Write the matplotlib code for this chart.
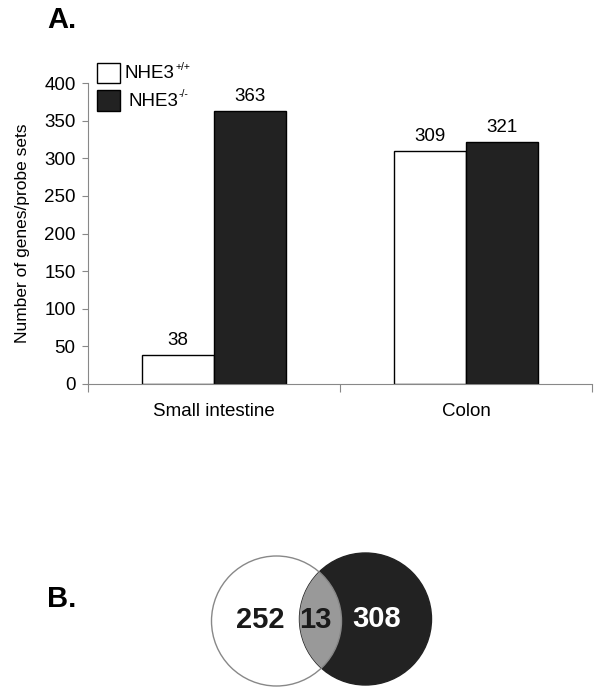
import matplotlib
matplotlib.use("Agg")
import matplotlib.pyplot as plt
from matplotlib.patches import Circle
import numpy as np

plt.rcParams['font.family'] = ['Liberation Sans', 'DejaVu Sans']

categories = ["Small intestine", "Colon"]
wt_values = [38, 309]
ko_values = [363, 321]
series_names = ["NHE3", "NHE3"]
series_sups = ["+/+", "-/-"]
yticks = [0, 50, 100, 150, 200, 250, 300, 350, 400]
venn_only_left = 252
venn_shared = 13
venn_only_right = 308

W, H = 602, 695
fig = plt.figure(figsize=(W / 100, H / 100), dpi=100)

ax = fig.add_axes([88 / W, 1 - 384 / H, (592 - 88) / W, (384 - 83) / H])
x = np.arange(len(categories)) + 0.5
bw = 0.287
ax.bar(x - bw / 2, wt_values, bw, color='white', edgecolor='black', linewidth=1)
ax.bar(x + bw / 2, ko_values, bw, color='#222222', edgecolor='black', linewidth=1)
for xi, v in zip(x - bw / 2, wt_values):
    ax.text(xi, v + 8, str(v), ha='center', va='bottom', fontsize=13.5)
for xi, v in zip(x + bw / 2, ko_values):
    ax.text(xi, v + 8, str(v), ha='center', va='bottom', fontsize=13.5)

ax.set_xlim(0, len(categories))
ax.set_ylim(0, 400)
ax.set_yticks(yticks)
ax.set_xticks([0, 1, 2])
ax.set_xticklabels([])
ax.set_xticks(x, minor=True)
ax.set_xticklabels(categories, minor=True, fontsize=13.5)
ax.tick_params(axis='x', which='minor', length=0, pad=14)
ax.tick_params(axis='x', which='major', length=6, color='#888888')
ax.tick_params(axis='y', labelsize=13.5, length=4, color='#888888', pad=5)
for s in ['top', 'right']:
    ax.spines[s].set_visible(False)
ax.spines['left'].set_color('#888888')
ax.spines['bottom'].set_color('#888888')
ax.set_ylabel("Number of genes/probe sets", fontsize=12.5, labelpad=10)

# overlay axes in pixel coordinates
ov = fig.add_axes([0, 0, 1, 1], zorder=5)
ov.set_xlim(0, W)
ov.set_ylim(H, 0)
ov.axis('off')
ov.patch.set_alpha(0)

# legend
ov.add_patch(plt.Rectangle((97, 63), 23, 20, facecolor='white', edgecolor='black', linewidth=1))
ov.add_patch(plt.Rectangle((97, 90), 23, 21, facecolor='#222222', edgecolor='black', linewidth=1))
ov.text(125, 74, series_names[0], va='center', ha='left', fontsize=13.5)
ov.text(176, 67, series_sups[0], va='center', ha='left', fontsize=7.5)
ov.text(128, 101, series_names[1], va='center', ha='left', fontsize=13.5)
ov.text(179, 94, series_sups[1], va='center', ha='left', fontsize=7.5)

ov.text(47, 20, "A.", fontsize=21, fontweight='bold', va='center', ha='left')
ov.text(47, 599, "B.", fontsize=21, fontweight='bold', va='center', ha='left')

# Venn
c1 = (276.5, 621)
r1 = 65
c2 = (365.5, 619)
r2 = 66
ov.add_patch(Circle(c2, r2, facecolor='#222222', edgecolor='#222222', linewidth=1))
lens = Circle(c1, r1, facecolor='#999999', edgecolor='none')
ov.add_patch(lens)
clip = Circle(c2, r2, transform=ov.transData)
lens.set_clip_path(clip)
ov.add_patch(Circle(c1, r1, facecolor='none', edgecolor='#888888', linewidth=1))
ov.text(260.5, 620, str(venn_only_left), fontsize=21, fontweight='bold', ha='center', va='center', color='#1a1a1a')
ov.text(315.5, 620, str(venn_shared), fontsize=21, fontweight='bold', ha='center', va='center', color='#1a1a1a')
ov.text(376.5, 619, str(venn_only_right), fontsize=21, fontweight='bold', ha='center', va='center', color='white')

fig.savefig("out.png", dpi=100)
